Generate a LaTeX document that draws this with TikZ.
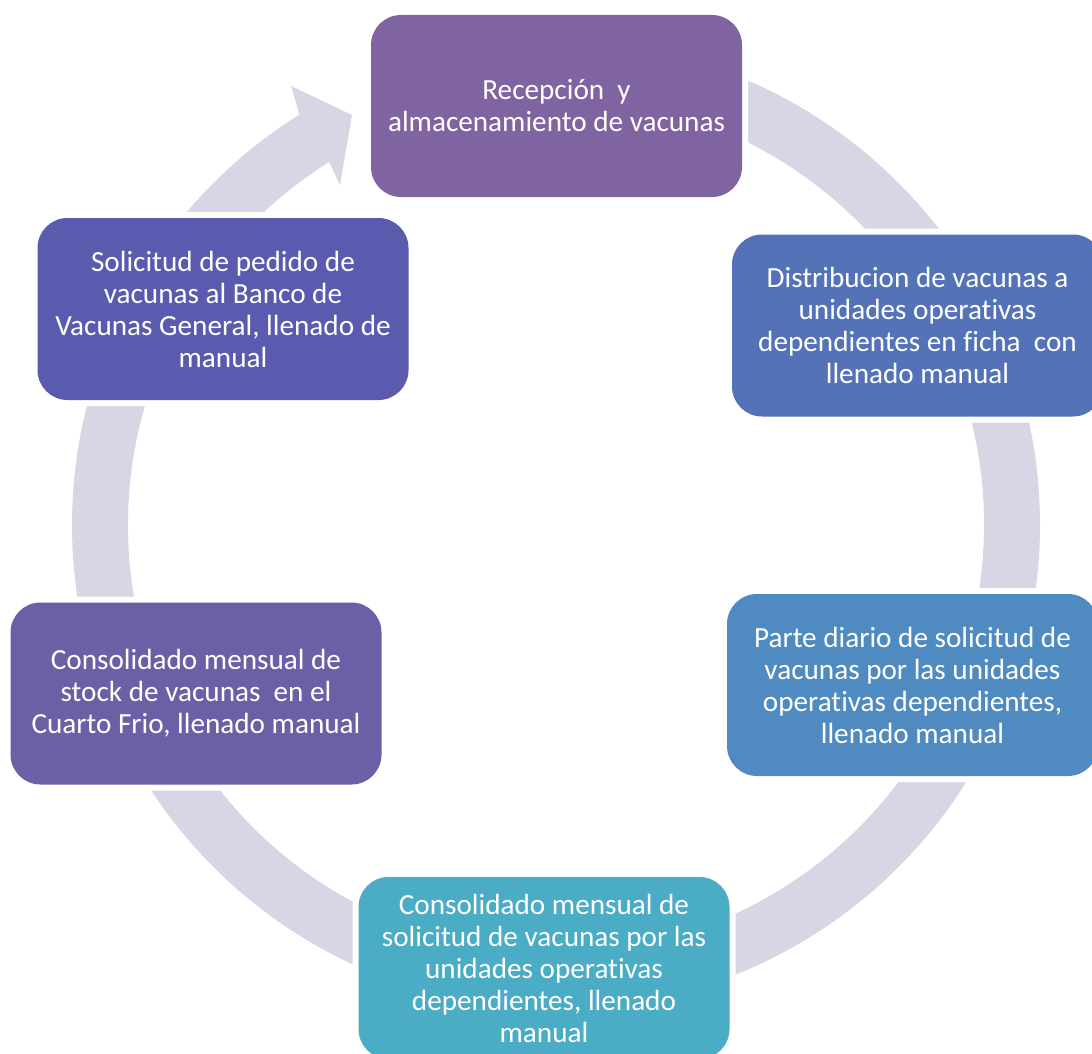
\documentclass[tikz,border=0pt]{standalone}
\usepackage{fontspec}
\setmainfont{Carlito}[Ligatures=NoCommon]
\definecolor{ringc}{RGB}{216,214,228}
\definecolor{cA}{RGB}{128,100,162}
\definecolor{cB}{RGB}{84,114,184}
\definecolor{cC}{RGB}{79,139,192}
\definecolor{cD}{RGB}{75,172,198}
\definecolor{cE}{RGB}{109,95,166}
\definecolor{cF}{RGB}{90,91,174}
\begin{document}
\begin{tikzpicture}[x=1pt,y=-1pt,
  stagebox/.style={rounded corners=30pt, minimum width=371pt, minimum height=182pt,
    inner sep=0pt, align=center, text=white,
    font=\fontsize{29.2}{32}\selectfont,
    preaction={draw=white, line width=12pt}}]
\useasboundingbox (0,0) rectangle (1092,1054);
\clip (0,0) rectangle (1092,1054);
% circular arrow ring
\begin{scope}[shift={(556,525)}]
  \fill[ringc] (270:484) arc[start angle=270, end angle=598, radius=484]
    -- (-265,-439) -- (-204,-410) -- (-216,-340)
    -- (598:428) arc[start angle=598, end angle=270, radius=428] -- cycle;
\end{scope}
% stages
\node[stagebox, fill=cA] (n1) at (556.5,106) {Recepción\ \ y\\almacenamiento de vacunas};
\node[stagebox, fill=cB] (n2) at (917.5,325.5) {Distribucion de vacunas a\\unidades operativas\\dependientes en ficha\ \ con\\llenado manual};
\node[stagebox, fill=cC] (n3) at (912.5,685) {Parte diario de solicitud de\\vacunas por las unidades\\operativas dependientes,\\llenado manual};
\node[stagebox, fill=cD] (n4) at (544,968) {Consolidado mensual de\\solicitud de vacunas por las\\unidades operativas\\dependientes, llenado\\manual};
\node[stagebox, fill=cE] (n5) at (196,693.5) {Consolidado mensual de\\stock de vacunas\ \ en el\\Cuarto Frio, llenado manual};
\node[stagebox, fill=cF] (n6) at (223,309) {Solicitud de pedido de\\vacunas al Banco de\\Vacunas General, llenado de\\manual};
\end{tikzpicture}
\end{document}
